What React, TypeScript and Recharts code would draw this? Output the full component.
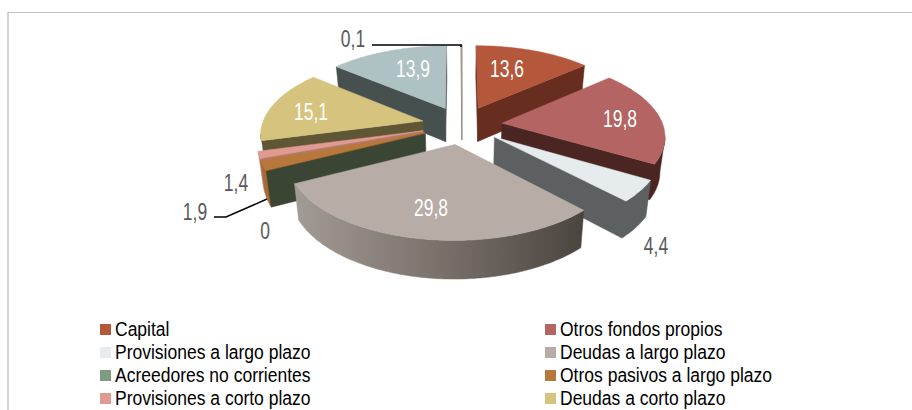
import React from 'react'
import { PieChart, Pie, Legend } from 'recharts'

const values = [13.6, 19.8, 4.4, 29.8, 0, 1.9, 1.4, 15.1, 13.9, 0.1]
const valueLabels = ['13,6', '19,8', '4,4', '29,8', '0', '1,9', '1,4', '15,1', '13,9', '0,1']
const legendNames = [
    'Capital',
    'Otros fondos propios',
    'Provisiones a largo plazo',
    'Deudas a largo plazo',
    'Acreedores no corrientes',
    'Otros pasivos a largo plazo',
    'Provisiones a corto plazo',
    'Deudas a corto plazo',
]
const topColors = ['#b5573a', '#b36463', '#e6eced', '#b7aca6', '#7d9c7d', '#b8783c', '#e09a90', '#d6c47e', '#aec1c3', '#a89a88']
const wallColors = ['#672e20', '#4b2522', '#5c6060', 'url(#rimDeudas)', '#3a4534', '#a8692f', '#b07a70', '#5e5635', '#46504f', '#8a7f70']

// back to front, the slices overlap
const drawOrder = [9, 8, 7, 6, 5, 4, 0, 1, 2, 3]

const rows = values.map((value, i) => ({ name: legendNames[i] ?? '', value, label: valueLabels[i], top: topColors[i], wall: wallColors[i] }))

const CX = 462
const CY = 125
const RADIUS = 161
const SQUASH = 0.472
const PERSPECTIVE = 0.144
const EXPLODE = 0.25
const FONT = "'Liberation Sans', Arial, sans-serif"

const labelSpots: [number, number, string][] = [
    [507, 69, '#fff'],
    [620, 119, '#fff'],
    [656, 246, '#595959'],
    [431, 208, '#fff'],
    [265, 231, '#595959'],
    [195, 212, '#595959'],
    [236, 183, '#595959'],
    [311, 112, '#fff'],
    [413, 69, '#fff'],
    [353, 39, '#595959'],
]
const leaderLines: Record<number, string> = {
    5: '214,217 226,217 267,199',
    9: '372,45 461,45 461,47',
}

const toPath = (pts: number[][]) => 'M' + pts.map(p => `${p[0].toFixed(1)},${p[1].toFixed(1)}`).join('L') + 'Z'

function Slice3D(props: any) {
    const { cx, cy, outerRadius, startAngle, endAngle, payload } = props
    const from = 90 - startAngle
    const to = 90 - endAngle
    const mid = ((from + to) / 2) * Math.PI / 180
    const ex = EXPLODE * Math.sin(mid)
    const ey = EXPLODE * Math.cos(mid)

    const project = (u: number, v: number) => {
        const s = 1 / (1 + PERSPECTIVE * v)
        return [cx + outerRadius * u * s, cy - outerRadius * SQUASH * v * s]
    }
    const drop = (p: number[]) => [cx + (p[0] - cx) * 0.975, p[1] + 34 + (p[1] - cy) * 0.04]

    const pts = [project(ex, ey)]
    const steps = Math.max(1, Math.ceil(to - from))
    for (let i = 0; i <= steps; i++) {
        const a = (from + ((to - from) * i) / steps) * Math.PI / 180
        pts.push(project(ex + Math.sin(a), ey + Math.cos(a)))
    }

    // walls that face the viewer: edges running right to left on a clockwise outline
    const runs: number[][][] = []
    let run: number[][] = []
    for (let i = 0; i < pts.length; i++) {
        const a = pts[i]
        const b = pts[(i + 1) % pts.length]
        if (b[0] < a[0]) {
            if (run.length === 0) run.push(a)
            run.push(b)
        } else if (run.length) {
            runs.push(run)
            run = []
        }
    }
    if (run.length) runs.push(run)

    return (
        <g>
            <defs>
                <linearGradient id="rimDeudas" gradientUnits="userSpaceOnUse" x1="293" y1="0" x2="585" y2="0">
                    <stop offset="0" stopColor="#a39b95" />
                    <stop offset="0.5" stopColor="#7a716b" />
                    <stop offset="1" stopColor="#4a443f" />
                </linearGradient>
            </defs>
            {runs.map((r, i) => (
                <path key={i} d={toPath([...r, ...r.map(drop).reverse()])} fill={payload.wall} stroke={payload.wall} strokeWidth={0.5} />
            ))}
            {to - from > 0 && <path d={toPath(pts)} fill={payload.top} stroke={payload.top} strokeWidth={0.5} />}
        </g>
    )
}

const renderLabel = (props: any) => {
    const { index } = props
    const [x, y, fill] = labelSpots[index]
    return (
        <g key={index}>
            {leaderLines[index] && <polyline points={leaderLines[index]} fill="none" stroke="#000" strokeWidth={1.5} />}
            <text transform={`translate(${x},${y}) scale(0.76,1)`} fill={fill} textAnchor="middle" dominantBaseline="central" fontFamily={FONT} fontSize={23}>
                {valueLabels[index]}
            </text>
        </g>
    )
}

const ChartLegend = () => (
    <div style={{ display: 'grid', gridTemplateColumns: '445px 300px', fontFamily: FONT, fontSize: 20, lineHeight: '23px', color: '#000' }}>
        {legendNames.map((name, i) => (
            <div key={name} style={{ display: 'flex', alignItems: 'center', whiteSpace: 'nowrap' }}>
                <span style={{ width: 11, height: 11, background: topColors[i], marginRight: 4 }} />
                <span style={{ transform: 'scaleX(0.875)', transformOrigin: 'left center' }}>{name}</span>
            </div>
        ))}
    </div>
)

export default function App() {
    return (
        <div style={{ position: 'absolute', left: 0, top: 0, width: 912, height: 410, overflow: 'hidden', background: '#fff' }}>
            <div style={{ position: 'absolute', left: 7, top: 12, right: 0, height: 400, borderTop: '1px solid #bfbfbf', borderLeft: '2px solid #d4d4d4' }} />
            <PieChart width={912} height={410} margin={{ top: 0, right: 0, bottom: 0, left: 0 }} style={{ position: 'absolute', left: 0, top: 0 }}>
                {drawOrder.map(slice => (
                    <Pie
                        key={slice}
                        data={rows}
                        dataKey="value"
                        cx={CX}
                        cy={CY}
                        outerRadius={RADIUS}
                        startAngle={90}
                        endAngle={-270}
                        stroke="none"
                        isAnimationActive={false}
                        shape={(p: any) => (p.index === slice ? <Slice3D {...p} /> : <g />)}
                        label={false}
                        labelLine={false}
                    />
                ))}
                <Pie
                    data={rows}
                    dataKey="value"
                    cx={CX}
                    cy={CY}
                    outerRadius={RADIUS}
                    startAngle={90}
                    endAngle={-270}
                    isAnimationActive={false}
                    shape={() => <g />}
                    label={renderLabel}
                    labelLine={false}
                />
                <Legend content={<ChartLegend />} layout="vertical" wrapperStyle={{ left: 100, top: 318, width: 760, bottom: 'auto' }} />
            </PieChart>
        </div>
    )
}
